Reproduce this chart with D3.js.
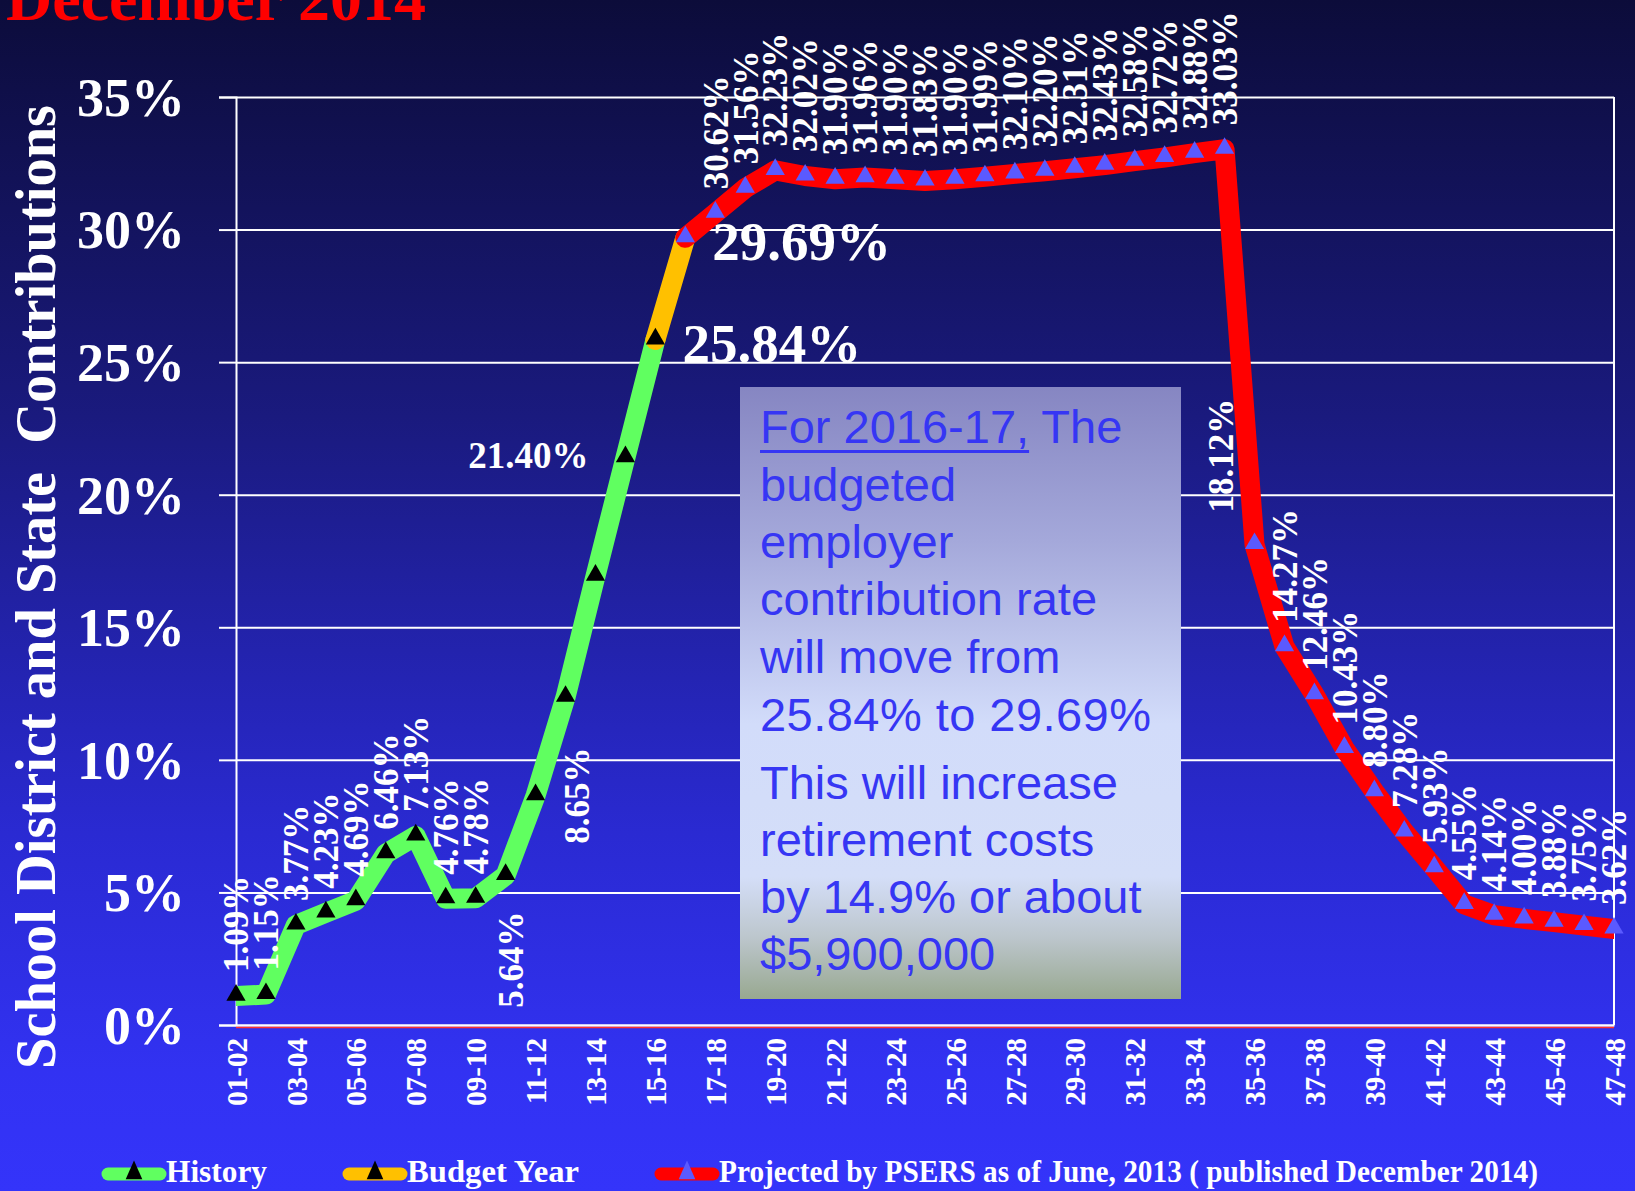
<!DOCTYPE html>
<html>
<head>
<meta charset="utf-8">
<script src="https://cdn.jsdelivr.net/npm/d3@7"></script>
<style>
  html, body { margin: 0; padding: 0; background: #1a1a80; }
  svg { display: block; }
</style>
</head>
<body>
<script>
// School year categories on the x axis
const categories = [
  "01-02","02-03","03-04","04-05","05-06","06-07","07-08","08-09","09-10","10-11",
  "11-12","12-13","13-14","14-15","15-16","16-17","17-18","18-19","19-20","20-21",
  "21-22","22-23","23-24","24-25","25-26","26-27","27-28","28-29","29-30","30-31",
  "31-32","32-33","33-34","34-35","35-36","36-37","37-38","38-39","39-40","40-41",
  "41-42","42-43","43-44","44-45","45-46","46-47","47-48"
];
const tickCategories = categories.filter((c, i) => i % 2 === 0);

// Employer contribution rates (%)
const historyYears = categories.slice(0, 15);
const historyRates = [1.09, 1.15, 3.77, 4.23, 4.69, 6.46, 7.13, 4.76, 4.78, 5.64, 8.65, 12.36, 16.93, 21.40, 25.84];
const budgetYears = ["15-16", "16-17"];
const budgetRates = [25.84, 29.69];
const projectedYears = categories.slice(15);
const projectedRates = [29.69, 30.62, 31.56, 32.23, 32.02, 31.90, 31.96, 31.90, 31.83, 31.90,
  31.99, 32.10, 32.20, 32.31, 32.43, 32.58, 32.72, 32.88, 33.03, 18.12,
  14.27, 12.46, 10.43, 8.80, 7.28, 5.93, 4.55, 4.14, 4.00, 3.88, 3.75, 3.62];

const yTicks = [0, 5, 10, 15, 20, 25, 30, 35];

const title = "December 2014";
const yTitle = "School District and State  Contributions";
const legendItems = [
  { name: "History", color: "#60ff60", marker: "#000000" },
  { name: "Budget Year", color: "#ffc000", marker: "#000000" },
  { name: "Projected by PSERS as of June, 2013 ( published December 2014)", color: "#ff0000", marker: "#5a5aff" }
];
const noteLines = [
  ["For 2016-17,", " The"],
  ["budgeted"],
  ["employer"],
  ["contribution rate"],
  ["will move from"],
  ["25.84% to 29.69%"],
  ["This will increase"],
  ["retirement costs"],
  ["by 14.9% or about"],
  ["$5,900,000"]
];

const W = 1635, H = 1191;
const plotLeft = 236, plotRight = 1614, plotTop = 97, plotBottom = 1025;
const serif = "'Liberation Serif', 'Times New Roman', serif";

const svg = d3.select("body").append("svg").attr("width", W).attr("height", H);
const defs = svg.append("defs");

const bg = defs.append("linearGradient").attr("id", "bg").attr("x1", 0).attr("y1", 0).attr("x2", 0).attr("y2", 1);
[[0, "#0c0c3a"], [0.35, "#1a1a7e"], [0.7, "#2a2ad2"], [0.9, "#3232f2"], [1, "#3434fa"]]
  .forEach(([o, c]) => bg.append("stop").attr("offset", o).attr("stop-color", c));

const boxGrad = defs.append("linearGradient").attr("id", "boxGrad").attr("x1", 0).attr("y1", 0).attr("x2", 0).attr("y2", 1);
[[0, "#8686c2"], [0.25, "#a4a8da"], [0.55, "#d2dcfa"], [0.8, "#d4def8"], [0.9, "#bcc6cc"], [1, "#98a890"]]
  .forEach(([o, c]) => boxGrad.append("stop").attr("offset", o).attr("stop-color", c));

defs.append("clipPath").attr("id", "plotClip")
  .append("rect").attr("x", plotLeft).attr("y", 0).attr("width", plotRight - plotLeft).attr("height", H);

svg.append("rect").attr("width", W).attr("height", H).attr("fill", "url(#bg)");

const x = d3.scalePoint().domain(categories).range([plotLeft, plotRight]);
const y = d3.scaleLinear().domain([0, 35]).range([plotBottom, plotTop]);

// Title (runs off the top edge of the slide)
svg.append("text").attr("x", 6).attr("y", 20)
  .attr("font-family", serif).attr("font-weight", "bold").attr("font-size", 64)
  .attr("fill", "#ff0000").text(title);

// Gridlines
const grid = svg.append("g").attr("transform", `translate(${plotLeft},0)`)
  .call(d3.axisLeft(y).tickValues(yTicks).tickSize(-(plotRight - plotLeft)).tickFormat(""));
grid.select(".domain").remove();
grid.selectAll("line").attr("stroke", "#ffffff").attr("stroke-width", 2);

// Y axis
const yAxis = svg.append("g").attr("transform", `translate(${plotLeft},0)`)
  .call(d3.axisLeft(y).tickValues(yTicks).tickSize(17).tickPadding(34).tickFormat(d => d + "%"));
yAxis.select(".domain").attr("stroke", "#ffffff").attr("stroke-width", 2);
yAxis.selectAll("line").attr("stroke", "#ffffff").attr("stroke-width", 2);
yAxis.selectAll("text").attr("fill", "#ffffff").attr("font-family", serif)
  .attr("font-weight", "bold").attr("font-size", 54).attr("dy", "0.34em");

// Right border of the plot
svg.append("line").attr("x1", plotRight).attr("x2", plotRight).attr("y1", plotTop).attr("y2", plotBottom)
  .attr("stroke", "#ffffff").attr("stroke-width", 2);

// X axis
const xAxis = svg.append("g").attr("transform", `translate(0,${plotBottom})`)
  .call(d3.axisBottom(x).tickValues(tickCategories).tickSize(0));
xAxis.select(".domain").attr("stroke", "#ffffff").attr("stroke-width", 2);
xAxis.selectAll("text")
  .attr("transform", "rotate(-90)")
  .attr("text-anchor", "end")
  .attr("x", -13).attr("y", 0).attr("dy", "0.35em")
  .attr("fill", "#ffffff").attr("font-family", serif)
  .attr("font-weight", "bold").attr("font-size", 29);
svg.append("line").attr("x1", plotLeft).attr("x2", plotRight).attr("y1", plotBottom + 2.5).attr("y2", plotBottom + 2.5)
  .attr("stroke", "#ff3030").attr("stroke-width", 1.5);

// Y axis title
svg.append("text")
  .attr("transform", `translate(55,${(105 + 1069) / 2}) rotate(-90)`)
  .attr("text-anchor", "middle")
  .attr("font-family", serif).attr("font-weight", "bold").attr("font-size", 56)
  .attr("textLength", 964).attr("lengthAdjust", "spacingAndGlyphs")
  .attr("fill", "#ffffff").style("white-space", "pre").text(yTitle);

// Series lines
const line = d3.line().x(d => x(d[0])).y(d => y(d[1]));
const lines = svg.append("g").attr("clip-path", "url(#plotClip)");
const seriesDefs = [
  { years: historyYears, rates: historyRates, color: "#60ff60" },
  { years: budgetYears, rates: budgetRates, color: "#ffc000" },
  { years: projectedYears, rates: projectedRates, color: "#ff0000" }
];
seriesDefs.forEach(s => {
  lines.append("path")
    .datum(d3.zip(s.years, s.rates))
    .attr("d", line)
    .attr("fill", "none").attr("stroke", s.color).attr("stroke-width", 20)
    .attr("stroke-linejoin", "round").attr("stroke-linecap", "round");
});

// Triangle markers
const tri = d3.symbol().type(d3.symbolTriangle).size(160);
const markers = svg.append("g");
markers.selectAll(".hm").data(d3.zip(historyYears, historyRates)).join("path")
  .attr("transform", d => `translate(${x(d[0])},${y(d[1]) - 1})`)
  .attr("d", tri).attr("fill", "#000000");
markers.selectAll(".pm").data(d3.zip(projectedYears, projectedRates)).join("path")
  .attr("transform", d => `translate(${x(d[0])},${y(d[1]) - 1})`)
  .attr("d", tri).attr("fill", "#5a5aff");

// Data labels
const fmt = v => v.toFixed(2) + "%";
const labels = svg.append("g").attr("fill", "#ffffff").attr("font-family", serif).attr("font-weight", "bold");
const allPoints = d3.zip(historyYears, historyRates).concat(d3.zip(projectedYears, projectedRates));
const hidden = new Set(["12-13", "13-14"]);
allPoints.forEach(([yr, v]) => {
  if (hidden.has(yr)) return;
  const px = x(yr), py = y(v);
  if (yr === "14-15") {
    labels.append("text").attr("x", px - 37).attr("y", py + 10).attr("text-anchor", "end")
      .attr("font-size", 37).text(fmt(v));
  } else if (yr === "15-16" || yr === "16-17") {
    labels.append("text").attr("x", px + 27).attr("y", py + 22)
      .attr("font-size", 55).text(fmt(v));
  } else if (yr === "10-11") {
    labels.append("text").attr("transform", `translate(${px + 5},${py + 36}) rotate(-90)`)
      .attr("text-anchor", "end").attr("dy", "0.35em").attr("font-size", 35).text(fmt(v));
  } else if (yr === "11-12") {
    labels.append("text").attr("transform", `translate(${px + 41},${py}) rotate(-90)`)
      .attr("text-anchor", "middle").attr("dy", "0.35em").attr("font-size", 35).text(fmt(v));
  } else if (yr === "35-36") {
    labels.append("text").attr("transform", `translate(${px - 34},${py - 32}) rotate(-90)`)
      .attr("dy", "0.35em").attr("font-size", 35).text(fmt(v));
  } else {
    labels.append("text").attr("transform", `translate(${px},${py - 24}) rotate(-90)`)
      .attr("dy", "0.35em").attr("font-size", 35).text(fmt(v));
  }
});

// Note box
const box = svg.append("g");
box.append("rect").attr("x", 740).attr("y", 387).attr("width", 441).attr("height", 612).attr("fill", "url(#boxGrad)");
const baselines = [443, 501, 558, 615, 673, 731, 799, 856, 913, 970];
const noteFont = "'Liberation Sans', Arial, sans-serif";
noteLines.forEach((parts, i) => {
  const t = box.append("text").attr("x", 760).attr("y", baselines[i])
    .attr("font-family", noteFont).attr("font-size", 47)
    .attr("textLength", i === 5 ? 391 : null)
    .attr("fill", "#3636f4").style("white-space", "pre");
  parts.forEach(p => t.append("tspan").text(p));
  if (i === 0) {
    // underline the lead-in phrase, comma included
    const w = t.select("tspan").node().getComputedTextLength();
    box.append("rect").attr("x", 760).attr("y", baselines[i] + 7).attr("width", w)
      .attr("height", 3).attr("fill", "#3636f4");
  }
});

// Legend
const legend = svg.append("g");
const legendX = [102, 343, 655];
const legendTextWidth = [101, 172, 819];
legendItems.forEach((item, i) => {
  const lx = legendX[i], cy = 1174;
  legend.append("line").attr("x1", lx + 6).attr("x2", lx + 58).attr("y1", cy).attr("y2", cy)
    .attr("stroke", item.color).attr("stroke-width", 13).attr("stroke-linecap", "round");
  legend.append("path").attr("transform", `translate(${lx + 32},${cy - 1}) scale(1,1.3)`)
    .attr("d", d3.symbol().type(d3.symbolTriangle).size(120)).attr("fill", item.marker);
  legend.append("text").attr("x", lx + 64).attr("y", 1182)
    .attr("font-family", serif).attr("font-weight", "bold").attr("font-size", 31)
    .attr("textLength", legendTextWidth[i]).attr("lengthAdjust", "spacingAndGlyphs")
    .attr("fill", "#ffffff").text(item.name);
});
</script>
</body>
</html>
